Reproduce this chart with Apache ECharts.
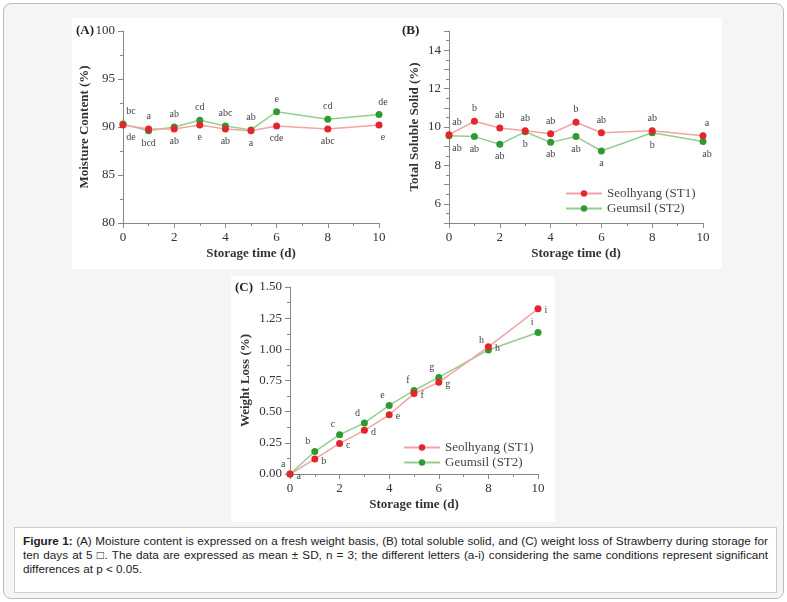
<!DOCTYPE html>
<html><head><meta charset="utf-8">
<script src="https://cdn.jsdelivr.net/npm/echarts@6/dist/echarts.min.js"></script>
<style>
body{margin:0;background:#fff;}
#frame{position:absolute;left:3px;top:3px;width:779px;height:594px;border:1px solid #bbb;border-radius:8px;background:#f5f5f5;}
#chart{position:absolute;left:0;top:0;width:787px;height:602px;}
#cap{position:absolute;left:14px;top:527px;width:745px;height:52px;padding:6px 8px;border:1px solid #ccc;background:#fff;
font-family:"Liberation Sans",Arial,sans-serif;font-size:11.7px;line-height:14px;text-align:justify;color:#222;}
</style></head><body>
<div id="frame"></div>
<div id="chart"></div>
<div id="cap"><b>Figure 1:</b> (A) Moisture content is expressed on a fresh weight basis, (B) total soluble solid, and (C) weight loss of Strawberry during storage for ten days at 5 &#9633;. The data are expressed as mean ± SD, n = 3; the different letters (a-i) considering the same conditions represent significant differences at p &lt; 0.05.</div>
<script>
// 数据
var days = [0, 1, 2, 3, 4, 5, 6, 8, 10];
var moistST1 = [90.2, 89.8, 89.8, 90.2, 89.8, 89.6, 90.1, 89.8, 90.2];
var moistST2 = [90.3, 89.6, 90.0, 90.7, 90.1, 89.7, 91.6, 90.8, 91.3];
var moistUp = ['bc', 'a', 'ab', 'cd', 'abc', 'ab', 'e', 'cd', 'de'];
var moistDown = ['de', 'bcd', 'ab', 'e', 'ab', 'a', 'cde', 'abc', 'e'];
var tssST1 = [9.6, 10.3, 9.95, 9.8, 9.65, 10.25, 9.7, 9.8, 9.55];
var tssST2 = [9.55, 9.5, 9.1, 9.75, 9.2, 9.5, 8.75, 9.7, 9.25];
var tssUp = ['ab', 'b', 'ab', 'ab', 'ab', 'b', 'ab', 'ab', 'a'];
var tssDown = ['ab', 'ab', 'ab', 'b', 'ab', 'ab', 'a', 'b', 'ab'];
var lossST1 = [0, 0.12, 0.245, 0.35, 0.475, 0.645, 0.735, 1.02, 1.325];
var lossST2 = [0, 0.18, 0.315, 0.41, 0.55, 0.67, 0.775, 0.995, 1.135];
var lossLetters = ['a', 'b', 'c', 'd', 'e', 'f', 'g', 'h', 'i'];

var N1 = 'Seolhyang (ST1)', N2 = 'Geumsil (ST2)';
var FONT = '"Liberation Serif", "DejaVu Serif", serif';
var RED = '#e3262b', RED_L = '#f3a3a5', GRN = '#2f9a2f', GRN_L = '#93d08f';

// 上下字母：较高的系列显示上方字母
function upDown(a, b, up, down, mine) {
    return days.map(function (d, i) {
        var isTop = mine === 0 ? a[i] >= b[i] : b[i] > a[i];
        var v = mine === 0 ? a[i] : b[i];
        return {value: [d, v], label: {show: true, position: isTop ? 'top' : 'bottom',
            distance: 4, offset: [(i === 0 ? 8 : (i === 8 ? 4 : 0)), 0], formatter: isTop ? up[i] : down[i]}};
    });
}
function side(vals, pos, off) {
    return days.map(function (d, i) {
        return {value: [d, vals[i]], label: {show: true, position: pos, offset: off, distance: 3, formatter: lossLetters[i]}};
    });
}
function ser(name, idx, data, isRed) {
    return {name: name, type: 'line', xAxisIndex: idx, yAxisIndex: idx, data: data,
        symbol: 'circle', symbolSize: 7, z: isRed ? 3 : 2,
        itemStyle: {color: isRed ? RED : GRN},
        lineStyle: {color: isRed ? RED_L : GRN_L, width: 1.5},
        label: {color: '#444', fontFamily: FONT, fontSize: 10}};
}
function xAx(idx) {
    return {type: 'value', gridIndex: idx, min: 0, max: 10, interval: 2,
        name: 'Storage time (d)', nameLocation: 'middle', nameGap: 24,
        nameTextStyle: {fontFamily: FONT, fontWeight: 'bold', fontSize: 13, color: '#333'},
        axisLine: {show: true, lineStyle: {color: '#888'}}, axisTick: {show: true, lineStyle: {color: '#888'}},
        minorTick: {show: true, splitNumber: 2, length: 3, lineStyle: {color: '#888'}},
        axisLabel: {fontFamily: FONT, fontSize: 13, color: '#333'}, splitLine: {show: false}};
}
function yAx(idx, min, max, interval, name, fmt, gap) {
    return {type: 'value', gridIndex: idx, min: min, max: max, interval: interval,
        name: name, nameLocation: 'middle', nameGap: gap,
        nameTextStyle: {fontFamily: FONT, fontWeight: 'bold', fontSize: 13, color: '#333'},
        axisLine: {show: true, lineStyle: {color: '#888'}}, axisTick: {show: true, lineStyle: {color: '#888'}},
        minorTick: {show: true, splitNumber: 2, length: 3, lineStyle: {color: '#888'}},
        axisLabel: {fontFamily: FONT, fontSize: 13, color: '#333', formatter: fmt}, splitLine: {show: false}};
}
function legend(left, top) {
    return {left: left, top: top, orient: 'vertical', itemGap: 2, itemWidth: 36, itemHeight: 8,
        data: [N1, N2], textStyle: {fontFamily: FONT, fontSize: 13, color: '#444'}};
}

var chart = echarts.init(document.getElementById('chart'));
chart.setOption({
    animation: false,
    graphic: [
        {type: 'rect', shape: {x: 72, y: 18, width: 326, height: 251}, style: {fill: '#fff'}, z: -10},
        {type: 'rect', shape: {x: 397, y: 18, width: 325, height: 251}, style: {fill: '#fff'}, z: -10},
        {type: 'rect', shape: {x: 231, y: 276, width: 324, height: 246}, style: {fill: '#fff'}, z: -10},
        {type: 'text', left: 76, top: 24, style: {text: '(A)', font: 'bold 13px ' + FONT, fill: '#222'}},
        {type: 'text', left: 402, top: 24, style: {text: '(B)', font: 'bold 13px ' + FONT, fill: '#222'}},
        {type: 'text', left: 235, top: 281, style: {text: '(C)', font: 'bold 13px ' + FONT, fill: '#222'}}
    ],
    legend: [legend(560, 182), legend(398, 436)],
    grid: [
        {left: 123, top: 31, width: 256, height: 192},
        {left: 449, top: 31, width: 254, height: 192},
        {left: 290, top: 287, width: 248, height: 187}
    ],
    xAxis: [xAx(0), xAx(1), xAx(2)],
    yAxis: [
        yAx(0, 80, 100, 5, 'Moisture Content (%)', null, 30),
        yAx(1, 5, 15, 1, 'Total Soluble Solid (%)', function (v) { return (v % 2 === 0 && v >= 6 && v <= 14) ? v : ''; }, 28),
        yAx(2, 0, 1.5, 0.25, 'Weight Loss (%)', function (v) { return v.toFixed(2); }, 38)
    ],
    series: [
        ser(N1, 0, upDown(moistST1, moistST2, moistUp, moistDown, 0), true),
        ser(N2, 0, upDown(moistST1, moistST2, moistUp, moistDown, 1), false),
        ser(N1, 1, upDown(tssST1, tssST2, tssUp, tssDown, 0), true),
        ser(N2, 1, upDown(tssST1, tssST2, tssUp, tssDown, 1), false),
        ser(N1, 2, side(lossST1, 'right', [0, 2]), true),
        ser(N2, 2, side(lossST2, 'left', [2, -10]), false)
    ]
});
</script>
</body></html>
